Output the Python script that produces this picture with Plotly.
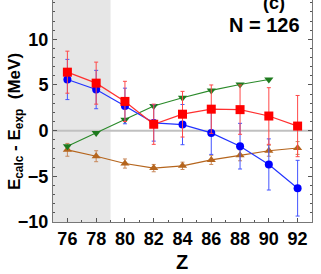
import plotly.graph_objects as go

Z = [76, 78, 80, 82, 84, 86, 88, 90, 92]
red_y = [6.4, 5.2, 3.2, 0.7, 1.8, 2.35, 2.3, 1.6, 0.5]
red_err = [2.3, 2.3, 2.2, 2.2, 2.5, 2.65, 2.7, 3.1, 3.35]
blue_y = [5.6, 4.5, 2.7, 0.85, 0.66, -0.25, -1.7, -3.7, -6.3]
blue_err = [2.2, 2.1, 1.95, 2.0, 2.2, 2.35, 2.5, 2.8, 3.05]
green_Z = [76, 78, 80, 82, 84, 86, 88, 90]
green_y = [-1.7, -0.25, 1.2, 2.7, 3.6, 4.4, 5.05, 5.6]
brown_y = [-2.1, -2.8, -3.6, -4.1, -3.85, -3.2, -2.7, -2.2, -1.9]
brown_err = [0.7, 0.6, 0.5, 0.4, 0.4, 0.5, 0.6, 0.6, 0.7]

FONT = "Liberation Sans Narrow, Liberation Sans, Arial, sans-serif"

fig = go.Figure()
fig.add_shape(type="rect", xref="x", yref="paper", x0=75, x1=79, y0=0, y1=1,
              fillcolor="#e6e6e6", line_width=0, layer="below")
fig.add_shape(type="line", xref="paper", yref="y", x0=0, x1=1, y0=0, y1=0,
              line=dict(color="#c0c0c0", width=2), layer="below")

fig.add_trace(go.Scatter(x=Z, y=brown_y, mode="lines+markers",
                         line=dict(color="#b5651d", width=1.2),
                         marker=dict(symbol="triangle-up", size=8, color="#b5651d"),
                         error_y=dict(type="data", array=brown_err, color="#c8885a", thickness=1, width=2)))
fig.add_trace(go.Scatter(x=green_Z, y=green_y, mode="lines+markers",
                         line=dict(color="#2a8a2a", width=1.2),
                         marker=dict(symbol="triangle-down", size=8, color="#1e7a1e")))
fig.add_trace(go.Scatter(x=Z, y=blue_y, mode="lines+markers",
                         line=dict(color="#2233ff", width=1.2),
                         marker=dict(symbol="circle", size=8, color="#0000ff"),
                         error_y=dict(type="data", array=blue_err, color="#4455ff", thickness=1, width=2)))
fig.add_trace(go.Scatter(x=Z, y=red_y, mode="lines+markers",
                         line=dict(color="#ff3030", width=1.2),
                         marker=dict(symbol="square", size=9, color="#ff0000"),
                         error_y=dict(type="data", array=red_err, color="#ff4848", thickness=1, width=2)))

fig.add_annotation(x=0.903, y=0.985, xref="paper", yref="paper", xanchor="right", yanchor="middle",
                   text="(c)", showarrow=False, font=dict(family=FONT, size=18, color="black", weight="bold"))
fig.add_annotation(x=0.962, y=0.887, xref="paper", yref="paper", xanchor="right", yanchor="middle",
                   text="N = 126", showarrow=False, font=dict(family=FONT, size=20, color="black", weight="bold"))
# axis titles
fig.add_annotation(x=0.498, y=0, xref="paper", yref="paper", xanchor="center", yanchor="middle",
                   yshift=-40, text="Z", showarrow=False,
                   font=dict(family=FONT, size=20, color="black", weight="bold"))
fig.add_annotation(x=0, y=0.45, xref="paper", yref="paper", xanchor="center", yanchor="middle",
                   xshift=-37, text="E<sub>calc</sub> - E<sub>exp</sub>  (MeV)", textangle=-90,
                   showarrow=False, font=dict(family=FONT, size=17, color="black", weight="bold"))

fig.update_layout(
    width=321, height=274,
    margin=dict(l=53, r=9, t=0, b=52, autoexpand=False),
    plot_bgcolor="white", paper_bgcolor="white",
    showlegend=False,
    font=dict(family=FONT, size=16, color="black", weight="bold"),
)
fig.update_xaxes(range=[75, 93], tickvals=[76, 78, 80, 82, 84, 86, 88, 90, 92],
                 ticks="inside", ticklen=4, tickcolor="#555", automargin=False,
                 minor=dict(dtick=1, ticks="inside", ticklen=2, tickcolor="#555"),
                 showgrid=False, zeroline=False, showline=True, linecolor="#777", linewidth=1,
                 tickfont=dict(family=FONT, size=18, weight="bold"))
fig.update_yaxes(range=[-10, 14.3], tickvals=[-10, -5, 0, 5, 10],
                 ticks="inside", ticklen=4, tickcolor="#555", automargin=False,
                 minor=dict(dtick=1, ticks="inside", ticklen=2, tickcolor="#555"),
                 showgrid=False, zeroline=False, showline=True, linecolor="#777", linewidth=1,
                 mirror="ticks",
                 tickfont=dict(family=FONT, size=18, weight="bold"))

fig.write_html("out.html", config={"displayModeBar": False},
               post_script="document.body.style.margin='0';document.body.style.padding='0';")
